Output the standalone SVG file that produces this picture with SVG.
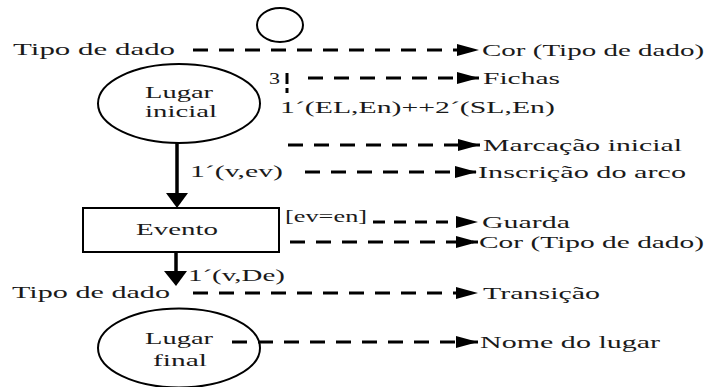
<svg xmlns="http://www.w3.org/2000/svg" width="712" height="387" viewBox="0 0 712 387">
<defs>
<marker id="ah" markerUnits="userSpaceOnUse" markerWidth="24" markerHeight="14" refX="22" refY="6" orient="auto">
<path d="M0,0 L22,6 L0,12 z" fill="#000" stroke="none"/>
</marker>
<style>
.d{stroke:#000;stroke-width:3;stroke-dasharray:15 11;fill:none;marker-end:url(#ah)}
.n{fill:#fff;stroke:#000;stroke-width:2}
.a{stroke:#000;stroke-width:3.5;fill:none}
</style>
</defs>
<rect width="712" height="387" fill="#fff"/>
<g id="legend-circle"><ellipse class="n" cx="280" cy="25" rx="23" ry="17"/></g>
<g id="lugar-inicial" font-family="Liberation Serif" font-size="17" fill="#1a1a1a">
<ellipse class="n" cx="179" cy="103.5" rx="81" ry="39.5"/>
<text transform="matrix(1.75 0 0 1 145 98)" textLength="38.9" lengthAdjust="spacingAndGlyphs">Lugar</text>
<text transform="matrix(1.75 0 0 1 145 117)" textLength="41.1" lengthAdjust="spacingAndGlyphs">inicial</text>
</g>
<g id="evento" font-family="Liberation Serif" font-size="17" fill="#1a1a1a">
<rect class="n" x="83" y="208" width="196" height="44"/>
<text transform="matrix(1.75 0 0 1 136 235)" textLength="46.9" lengthAdjust="spacingAndGlyphs">Evento</text>
</g>
<g id="lugar-final" font-family="Liberation Serif" font-size="17" fill="#1a1a1a">
<ellipse class="n" cx="179" cy="348" rx="81" ry="39.5"/>
<text transform="matrix(1.75 0 0 1 145 344)" textLength="38.9" lengthAdjust="spacingAndGlyphs">Lugar</text>
<text transform="matrix(1.75 0 0 1 153 366)" textLength="30.9" lengthAdjust="spacingAndGlyphs">final</text>
</g>
<g id="connectors">
<line class="a" x1="177" y1="143" x2="177" y2="194"/>
<polygon points="166,193 188,193 177,208" fill="#000"/>
<line class="a" x1="176" y1="252" x2="176" y2="272"/>
<polygon points="164,271 187,271 176,286" fill="#000"/>
<line class="d" x1="193" y1="50" x2="479" y2="50"/>
<line class="d" x1="308" y1="78" x2="479" y2="78"/>
<line x1="287" y1="73" x2="287" y2="93" stroke="#000" stroke-width="3" stroke-dasharray="11 4 5 20"/>
<line class="d" x1="288" y1="145" x2="480" y2="145"/>
<line class="d" x1="305" y1="172" x2="477" y2="172"/>
<line class="d" x1="373" y1="222" x2="478" y2="222" style="stroke-dasharray:12 9"/>
<line class="d" x1="290" y1="242" x2="478" y2="242"/>
<line class="d" x1="193" y1="293" x2="478" y2="293"/>
<line class="d" x1="232" y1="342" x2="478" y2="342"/>
</g>
<g id="labels" font-family="Liberation Serif" font-size="17" fill="#1a1a1a">
<text transform="matrix(1.75 0 0 1 13 55)" textLength="92.6" lengthAdjust="spacingAndGlyphs">Tipo de dado</text>
<text transform="matrix(1.75 0 0 1 482 56)" textLength="126.9" lengthAdjust="spacingAndGlyphs">Cor (Tipo de dado)</text>
<text transform="matrix(1.75 0 0 1 269 84)" textLength="6.3" lengthAdjust="spacingAndGlyphs">3</text>
<text transform="matrix(1.75 0 0 1 483 84)" textLength="44" lengthAdjust="spacingAndGlyphs">Fichas</text>
<text transform="matrix(1.75 0 0 1 280 113)" textLength="157.1" lengthAdjust="spacingAndGlyphs">1&#180;(EL,En)++2&#180;(SL,En)</text>
<text transform="matrix(1.75 0 0 1 483 151)" textLength="113.7" lengthAdjust="spacingAndGlyphs">Marca&#231;&#227;o inicial</text>
<text transform="matrix(1.75 0 0 1 190 177)" textLength="53.1" lengthAdjust="spacingAndGlyphs">1&#180;(v,ev)</text>
<text transform="matrix(1.75 0 0 1 478 178)" textLength="118.9" lengthAdjust="spacingAndGlyphs">Inscri&#231;&#227;o do arco</text>
<text transform="matrix(1.75 0 0 1 285 222)" textLength="46.9" lengthAdjust="spacingAndGlyphs">[ev=en]</text>
<text transform="matrix(1.75 0 0 1 482 228)" textLength="50.3" lengthAdjust="spacingAndGlyphs">Guarda</text>
<text transform="matrix(1.75 0 0 1 479 248)" textLength="128.6" lengthAdjust="spacingAndGlyphs">Cor (Tipo de dado)</text>
<text transform="matrix(1.75 0 0 1 188 281)" textLength="55.4" lengthAdjust="spacingAndGlyphs">1&#180;(v,De)</text>
<text transform="matrix(1.75 0 0 1 12 298)" textLength="90.3" lengthAdjust="spacingAndGlyphs">Tipo de dado</text>
<text transform="matrix(1.75 0 0 1 483 299)" textLength="66.9" lengthAdjust="spacingAndGlyphs">Transi&#231;&#227;o</text>
<text transform="matrix(1.75 0 0 1 480 348)" textLength="102.9" lengthAdjust="spacingAndGlyphs">Nome do lugar</text>
</g>
</svg>
